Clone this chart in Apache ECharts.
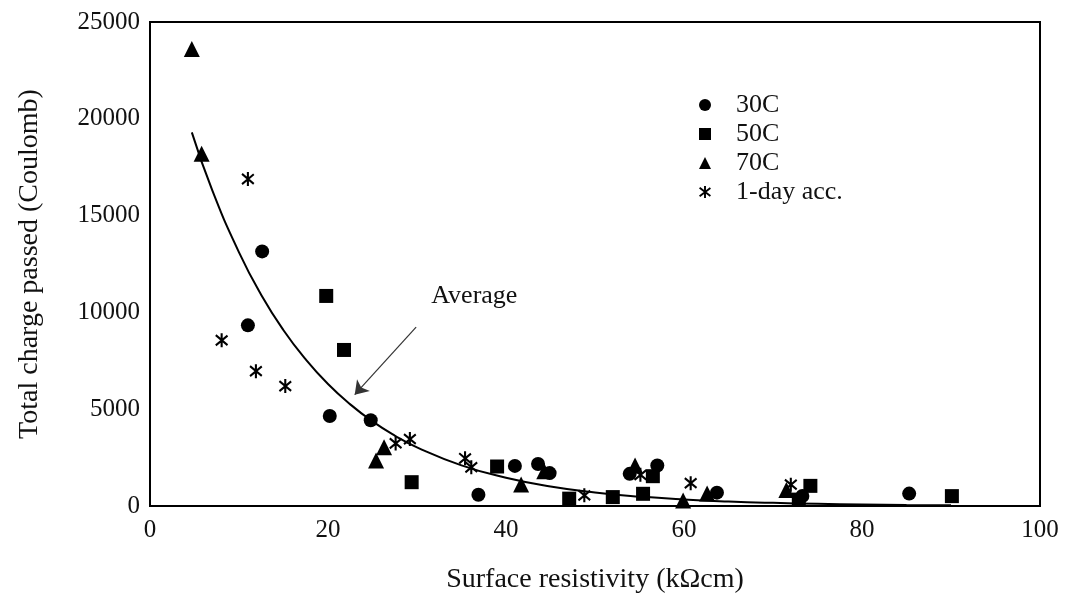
<!DOCTYPE html>
<html>
<head>
<meta charset="utf-8">
<script src="https://cdn.jsdelivr.net/npm/echarts@6/dist/echarts.min.js"></script>
<style>
html,body{margin:0;padding:0;background:#fff;}
#c{width:1066px;height:599px;}
</style>
</head>
<body>
<div id="c"></div>
<script>
// ---- data ----
const xTitle = 'Surface resistivity (kΩcm)';
const yTitle = 'Total charge passed (Coulomb)';
const seriesNames = ['30C', '50C', '70C', '1-day acc.'];

const c30 = [[11.0, 9330], [12.6, 13150], [20.2, 4650], [24.8, 4430], [36.9, 580], [41.0, 2070], [43.6, 2170],
  [44.9, 1700], [53.9, 1660], [57.0, 2090], [63.7, 690], [73.3, 520], [85.3, 640]];
const c50 = [[19.8, 10850], [21.8, 8060], [29.4, 1230], [39.0, 2040], [47.1, 380], [52.0, 460], [55.4, 630],
  [56.5, 1540], [72.9, 330], [74.2, 1040], [90.1, 510]];
const c70 = [[4.7, 23600], [5.8, 18200], [25.4, 2350], [26.3, 3030], [41.7, 1110], [44.3, 1800], [54.5, 2090],
  [59.9, 290], [62.6, 650], [71.5, 820]];
const acc1 = [[8.05, 8560], [11.0, 16890], [11.9, 6965], [15.2, 6195], [27.6, 3234], [29.2, 3455], [35.4, 2464],
  [36.1, 2002], [48.8, 550], [55.1, 1608], [60.75, 1180], [72.0, 1100]];
// "Average" trend curve
const trendX = [4.7, 7, 10, 12.5, 15, 17.5, 20, 22.5, 25, 27.5, 30, 35, 40, 45, 50, 55, 60, 65, 70, 75, 80, 85, 90];
const trendY = [19300, 16300, 13100, 10900, 9080, 7570, 6300, 5250, 4370, 3640, 3030, 2100, 1460, 1010, 700, 486, 337, 234, 162, 112, 78, 54, 38];
const arrowFrom = [29.9, 9240];
const arrowTo = [23.0, 5750];
const avgLabelAt = [31.6, 10830];
const avgLabel = 'Average';

const xTicks = {min: 0, max: 100, interval: 20};
const yTicks = {min: 0, max: 25000, interval: 5000};

// ---- chart ----
const FONT = "'Liberation Serif', 'Times New Roman', serif";
const asterisk = 'path://M42,0H58V100H42Z M9.8,7.8L99.8,77.8L90.2,90.2L0.2,20.2Z M0.2,79.8L90.2,9.8L99.8,22.2L9.8,92.2Z';

const chart = echarts.init(document.getElementById('c'), null, {renderer: 'canvas'});
const trend = trendX.map((x, i) => [x, trendY[i]]);

function sc(name, data, symbol, size) {
  return {
    name, type: 'scatter', data, symbol, symbolSize: size,
    itemStyle: {color: '#000', opacity: 1},
    emphasis: {disabled: true}, z: 3
  };
}

chart.setOption({
  animation: false,
  backgroundColor: '#fff',
  textStyle: {fontFamily: FONT, color: '#000'},
  grid: {left: 150, right: 26, top: 22, bottom: 90, show: true, borderColor: '#000', borderWidth: 2, containLabel: false},
  legend: {
    data: seriesNames, orient: 'vertical', left: 694, top: 87,
    itemWidth: 12, itemHeight: 12, itemGap: 3,
    textStyle: {fontFamily: FONT, fontSize: 26, color: '#111', padding: [0, 0, 0, 20]},
    selectedMode: false
  },
  xAxis: {
    type: 'value', min: xTicks.min, max: xTicks.max, interval: xTicks.interval,
    name: xTitle, nameLocation: 'middle', nameGap: 60,
    nameTextStyle: {fontFamily: FONT, fontSize: 28, color: '#111'},
    axisLine: {show: true, lineStyle: {color: '#000', width: 2}},
    axisTick: {show: false}, splitLine: {show: false},
    axisLabel: {fontFamily: FONT, fontSize: 25, color: '#111', margin: 12}
  },
  yAxis: {
    type: 'value', min: yTicks.min, max: yTicks.max, interval: yTicks.interval,
    name: yTitle, nameLocation: 'middle', nameGap: 106,
    nameTextStyle: {fontFamily: FONT, fontSize: 28, color: '#111'},
    axisLine: {show: true, lineStyle: {color: '#000', width: 2}},
    axisTick: {show: false}, splitLine: {show: false},
    axisLabel: {fontFamily: FONT, fontSize: 25, color: '#111', margin: 10, formatter: v => String(v)}
  },
  series: [
    {
      name: 'Average', type: 'line', data: trend, smooth: true, showSymbol: false, symbol: 'none',
      lineStyle: {color: '#000', width: 2}, z: 2, silent: true,
      markLine: {
        silent: true, symbol: ['none', 'arrow'], symbolSize: 13,
        lineStyle: {color: '#333', width: 1.2, type: 'solid'},
        itemStyle: {color: '#333'},
        label: {show: false},
        data: [[{coord: arrowFrom}, {coord: arrowTo}]]
      },
      markPoint: {
        silent: true, symbol: 'circle', symbolSize: 0,
        label: {show: true, formatter: avgLabel, position: 'right', distance: 0,
          fontFamily: FONT, fontSize: 26, color: '#111'},
        data: [{coord: avgLabelAt}]
      }
    },
    sc('30C', c30, 'circle', 14),
    sc('50C', c50, 'rect', 14),
    sc('70C', c70, 'triangle', 16),
    sc('1-day acc.', acc1, asterisk, [13, 14])
  ]
});
</script>
</body>
</html>
